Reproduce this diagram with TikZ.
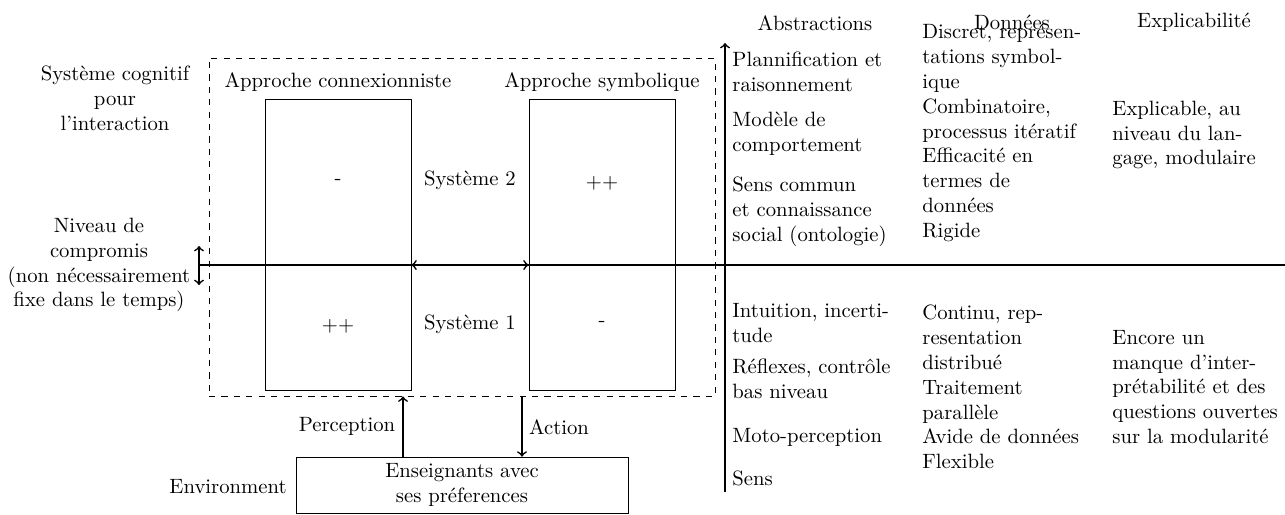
\documentclass[tikz,border=0pt]{standalone}
\begin{document}
\begin{tikzpicture}[x=0.483pt,y=-0.483pt,
  txt/.style={inner sep=0pt},
  col/.style={inner sep=0pt,anchor=west,align=left},
  ctr/.style={inner sep=0pt,align=center},
  box/.style={draw,inner sep=0pt},
  axis/.style={thick},
  conn/.style={thick,->},
  dconn/.style={thick,<->}]
\useasboundingbox (0,0) rectangle (1285,514);
% dashed frame and approach boxes
\node[box,dashed,minimum width=244.4pt,minimum height=163.3pt] (frame) at (462,227) {};
\node[box,minimum width=70.5pt,minimum height=140.6pt] (lrect) at (338,244.5) {};
\node[box,minimum width=70.5pt,minimum height=140.6pt] (rrect) at (602,244.5) {};
\node[txt] (lhead) at (338,82) {Approche connexionniste};
\node[txt] (rhead) at (602,82) {Approche symbolique};
\node[txt] (lup) at (338,182) {-};
\node[txt] (rup) at (602,183) {++};
\node[txt] (llow) at (338,326) {++};
\node[txt] (rlow) at (602,324) {-};
\node[txt] (s2) at (470,180) {Système 2};
\node[txt] (s1) at (470,324) {Système 1};
% left labels
\node[ctr] (sys) at (115,98) {Système cognitif\\pour\\l'interaction};
\node[ctr] (niv) at (99,265) {Niveau de\\compromis\\(non nécessairement\\fixe dans le temps)};
% main lines
\coordinate (hl) at (199,265);
\coordinate (hr) at (1285,265);
\coordinate (dt) at (199,246);
\coordinate (db) at (199,285);
\coordinate (ab) at (725,492);
\coordinate (at) at (725,43);
\draw[axis] (hl) -- (hr);
\draw[dconn] (db) -- (dt);
\draw[axis,->] (ab) -- (at);
\draw[dconn] (lrect.east |- hl) -- (rrect.west |- hl);
% environment
\node[box,minimum width=160.4pt,minimum height=27pt,align=center] (env) at (462,485) {Enseignants avec\\ses préferences};
\node[txt,anchor=east] (envl) at (287,487) {Environment};
\coordinate (pc) at (403,0);
\coordinate (ac) at (522,0);
\draw[conn] (env.north -| pc) -- (frame.south -| pc);
\draw[conn] (frame.south -| ac) -- (env.north -| ac);
\node[txt] (perc) at (347,426) {Perception};
\node[txt] (act) at (559,427) {Action};
% column headers
\node[txt] (habs) at (815,23) {Abstractions};
\node[txt] (hdon) at (1012,22) {Données};
\node[txt] (hexp) at (1194,22) {Explicabilité};
% abstractions
\node[col] (a1) at (732,72) {Plannification et\\raisonnement};
\node[col] (a2) at (732,134) {Modèle de\\comportement};
\node[col] (a3) at (732,212) {Sens commun\\et connaissance\\social (ontologie)};
\node[col] (a4) at (732,323) {Intuition, incerti-\\tude};
\node[col] (a5) at (732,379) {Réflexes, contrôle\\bas niveau};
\node[col] (a6) at (732,437) {Moto-perception};
\node[col] (a7) at (732,478) {Sens};
% donnees
\node[col] (d1) at (922,133) {Discret, représen-\\tations symbol-\\ique\\Combinatoire,\\processus itératif\\Efficacité en\\termes de\\données\\Rigide};
\node[col] (d2) at (922,387) {Continu, rep-\\resentation\\distribué\\Traitement\\parallèle\\Avide de données\\Flexible};
% explicabilite
\node[col] (e1) at (1112,135) {Explicable, au\\niveau du lan-\\gage, modulaire};
\node[col] (e2) at (1112,387) {Encore un\\manque d'inter-\\prétabilité et des\\questions ouvertes\\sur la modularité};
\end{tikzpicture}
\end{document}
